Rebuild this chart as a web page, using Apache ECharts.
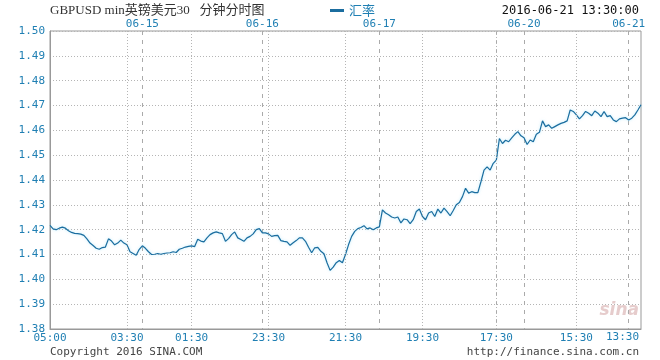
<!DOCTYPE html>
<html>
<head>
<meta charset="utf-8">
<script src="https://cdn.jsdelivr.net/npm/echarts@6/dist/echarts.min.js"></script>
<style>html,body{margin:0;padding:0;background:#fff;}#c{width:660px;height:360px;}</style>
</head>
<body>
<div id="c"></div>
<script>
// GBP/USD 30-minute rate (left to right)
const rate = [
  1.4217,1.4203,1.4200,1.4206,1.4210,1.4206,1.4196,1.4189,1.4185,1.4184,1.4182,1.4177,1.4163,1.4146,1.4136,1.4125,1.4121,1.4128,1.4130,1.4163,
  1.4154,1.4139,1.4146,1.4158,1.4146,1.4139,1.4111,1.4104,1.4097,1.4121,1.4135,1.4125,1.4111,1.4100,1.4101,1.4104,1.4101,1.4104,1.4106,1.4107,
  1.4111,1.4108,1.4121,1.4125,1.4130,1.4133,1.4135,1.4132,1.4161,1.4154,
  1.4151,1.4167,1.4180,1.4187,1.4191,1.4187,1.4184,1.4153,1.4164,1.4180,1.4191,1.4167,1.4160,1.4153,1.4167,1.4173,1.4183,1.4200,1.4204,1.4187,
  1.4187,1.4183,1.4173,1.4176,1.4177,1.4156,1.4153,1.4151,1.4137,1.4147,1.4156,1.4167,1.4167,1.4153,1.4129,1.4107,1.4127,1.4129,1.4113,1.4103,
  1.4067,1.4036,1.4049,1.4067,1.4076,1.4067,1.4100,1.4140,1.4173,1.4193,1.4204,1.4209,
  1.4216,1.4203,1.4207,1.4200,1.4207,1.4211,1.4280,1.4267,1.4260,1.4251,1.4247,1.4251,1.4227,1.4243,1.4240,1.4224,1.4240,1.4273,1.4283,1.4253,
  1.4240,1.4267,1.4273,1.4253,1.4283,1.4267,1.4287,1.4273,1.4256,1.4277,1.4300,1.4309,1.4333,1.4367,1.4347,1.4353,1.4349,1.4349,1.4393,1.4440,
  1.4453,1.4440,1.4467,1.4480,1.4567,1.4547,1.4560,
  1.4554,1.4570,1.4584,1.4595,1.4578,1.4570,1.4543,1.4561,1.4554,1.4584,1.4592,1.4638,1.4615,1.4622,1.4608,1.4615,1.4622,1.4628,1.4632,1.4638,
  1.4682,1.4676,1.4662,1.4646,1.4659,1.4676,1.4669,1.4659,1.4678,1.4669,1.4655,1.4676,1.4655,1.4659,1.4642,1.4635,1.4646,1.4649,1.4651,1.4642,
  1.4649,1.4662,1.4682,1.4703
];
// bottom time ticks (index into rate) and their labels
const timeTickIdx = [0,25,46,71,96,121,145,171,196];
const timeTickLabels = ['05:00','03:30','01:30','23:30','21:30','19:30','17:30','15:30','13:30'];
// day separators (index) and their labels
const dayIdx = [30,69,107,145,154,188];
const dayLabels = ['06-15','06-16','06-17','','06-20','06-21'];
// y axis
const yMin = 1.38, yMax = 1.50, yStep = 0.01;

const categories = rate.map((_, i) => i);
const dayMap = {}; dayIdx.forEach((k, j) => dayMap[k] = dayLabels[j]);
const lastIdx = rate.length - 1;

const blue = '#1f7fb3';
const mono = '"DejaVu Sans Mono", "Liberation Mono", monospace';

// vertical time gridlines with their labels below the axis (last one is at the right border)
const timeLines = timeTickIdx.filter(k => k !== lastIdx).map((k, j) => ({
  xAxis: k,
  lineStyle: {color: k === 0 ? 'rgba(0,0,0,0)' : '#b5b5b5', type: [1, 2], width: 1},
  label: {
    show: true, position: 'start', formatter: timeTickLabels[j], distance: 4,
    color: blue, fontSize: 11, fontFamily: mono, align: 'center'
  }
}));

const chart = echarts.init(document.getElementById('c'), null, {renderer: 'canvas'});
chart.setOption({
  animation: false,
  backgroundColor: '#fff',
  grid: {left: 50, right: 19, top: 31, bottom: 31, show: true, borderColor: '#999', borderWidth: 1},
  title: {
    text: 'GBPUSD min英镑美元30   分钟分时图',
    left: 50, top: 4, padding: 0,
    textStyle: {fontSize: 13, fontWeight: 'normal', color: '#333', fontFamily: '"Liberation Serif", "Noto Sans CJK SC", serif'}
  },
  legend: {
    data: ['汇率'], left: 330, top: 4, padding: 0, icon: 'rect', itemWidth: 14, itemHeight: 3, itemGap: 4,
    textStyle: {color: blue, fontSize: 13, fontFamily: '"Noto Sans CJK SC", sans-serif'}
  },
  graphic: [
    {type: 'text', right: 21, top: 5, style: {text: '2016-06-21 13:30:00', fill: '#111', font: '12px ' + mono}},
    {type: 'text', right: 21, top: 332, style: {text: timeTickLabels[timeTickLabels.length - 1], fill: blue, font: '11px ' + mono}},
    {type: 'text', left: 50, top: 347, style: {text: 'Copyright 2016 SINA.COM', fill: '#444', font: '11px ' + mono}},
    {type: 'text', right: 21, top: 347, style: {text: 'http://finance.sina.com.cn', fill: '#444', font: '11px ' + mono}},
    {type: 'text', right: 21, top: 302, style: {text: 'sina', fill: '#e6cccc', font: 'italic bold 17px "DejaVu Sans", sans-serif'}}
  ],
  xAxis: [
    {
      type: 'category', data: categories, boundaryGap: false, position: 'bottom',
      axisLine: {show: true, lineStyle: {color: '#999'}},
      axisTick: {show: false},
      axisLabel: {show: false},
      splitLine: {show: false}
    },
    {
      type: 'category', data: categories, boundaryGap: false, position: 'top',
      axisLine: {show: false}, axisTick: {show: false},
      axisLabel: {
        interval: (i) => dayMap[i] !== undefined,
        formatter: (v) => dayMap[v] !== undefined ? dayMap[v] : '',
        color: blue, fontSize: 11, fontFamily: mono, margin: 1
      },
      splitLine: {
        show: true,
        interval: (i) => dayMap[i] !== undefined,
        lineStyle: {color: '#aaa', type: [4, 5], width: 1}
      }
    }
  ],
  yAxis: {
    type: 'value', min: yMin, max: yMax, interval: yStep,
    axisLine: {show: true, lineStyle: {color: '#999'}},
    axisTick: {show: false},
    axisLabel: {formatter: (v) => v.toFixed(2), color: blue, fontSize: 11, fontFamily: mono, margin: 5},
    splitLine: {show: true, lineStyle: {color: '#b5b5b5', type: [1, 2], width: 1}}
  },
  series: [{
    name: '汇率', type: 'line', data: rate, xAxisIndex: 0, symbol: 'none',
    itemStyle: {color: '#1b6d9f'},
    lineStyle: {color: '#1b6d9f', width: 1.2, shadowColor: 'rgba(120,215,250,0.55)', shadowBlur: 3},
    markLine: {silent: true, symbol: ['none', 'none'], animation: false, data: timeLines}
  }]
});
</script>
</body>
</html>
